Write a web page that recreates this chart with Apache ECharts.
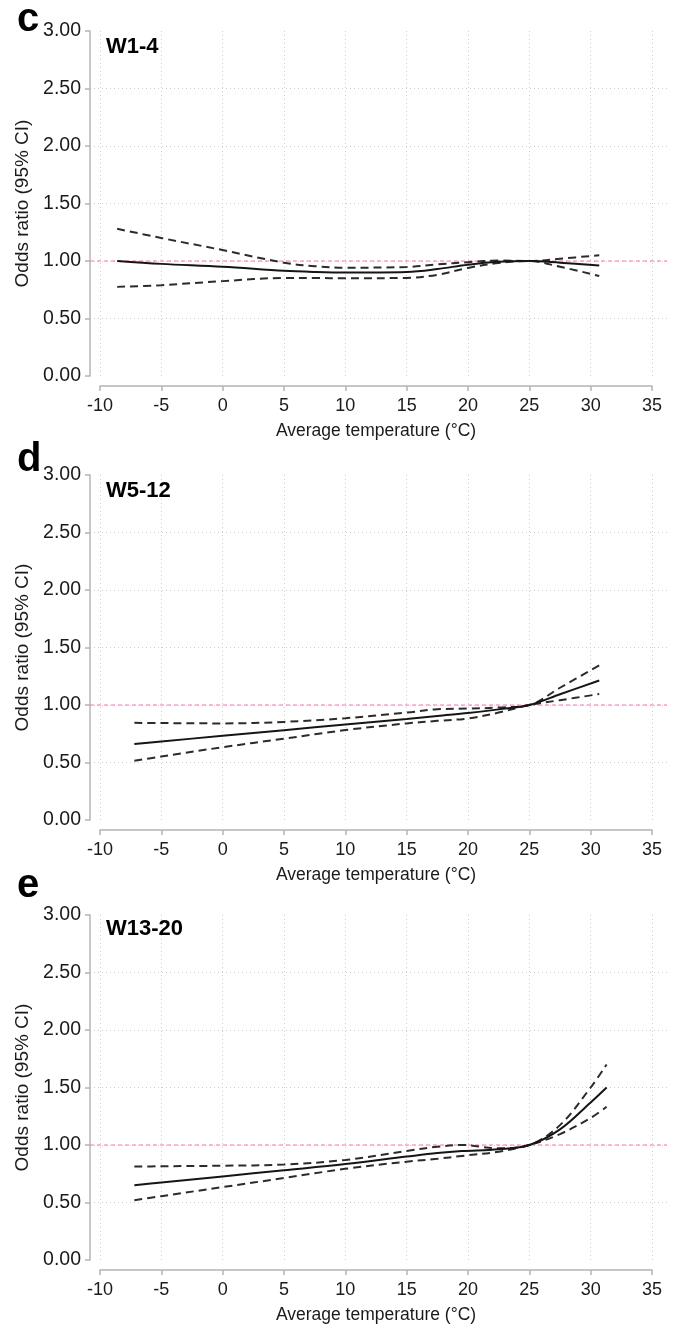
<!DOCTYPE html>
<html>
<head>
<meta charset="utf-8">
<script src="https://cdn.jsdelivr.net/npm/echarts@6/dist/echarts.min.js"></script>
<style>
  html, body { margin: 0; padding: 0; background: #fff; }
  #chart { width: 677px; height: 1333px; }
</style>
</head>
<body>
<div id="chart"></div>
<script>
// Odds ratio of the outcome against average temperature (°C), with 95% CI,
// for three exposure windows. Reference temperature ~25 °C (OR = 1).

// W1-4
const tempsC = [-8.6, -5, 0, 5, 7.5, 10, 15, 17.5, 20, 22.5, 25, 27.5, 30.7];
const orC    = [1.00, 0.975, 0.95, 0.915, 0.905, 0.90, 0.905, 0.93, 0.968, 0.993, 1.00, 0.985, 0.96];
const upC    = [1.28, 1.20, 1.095, 0.985, 0.955, 0.942, 0.948, 0.97, 0.99, 1.005, 1.00, 1.02, 1.05];
const loC    = [0.775, 0.79, 0.825, 0.852, 0.852, 0.85, 0.853, 0.88, 0.94, 0.982, 1.00, 0.95, 0.87];

// W5-12
const tempsD = [-7.2, -5, 0, 5, 10, 15, 17.5, 20, 22.5, 25, 27.5, 30.7];
const orD    = [0.66, 0.683, 0.732, 0.781, 0.83, 0.878, 0.905, 0.93, 0.962, 1.00, 1.093, 1.213];
const upD    = [0.845, 0.843, 0.84, 0.853, 0.885, 0.934, 0.963, 0.969, 0.978, 1.00, 1.15, 1.345];
const loD    = [0.515, 0.552, 0.633, 0.707, 0.782, 0.84, 0.862, 0.883, 0.934, 1.00, 1.042, 1.095];

// W13-20
const tempsE = [-7.2, -5, 0, 5, 10, 15, 17.5, 19.5, 22.5, 25, 27.5, 30, 31.3];
const orE    = [0.65, 0.674, 0.727, 0.78, 0.834, 0.899, 0.93, 0.947, 0.963, 1.00, 1.136, 1.37, 1.50];
const upE    = [0.812, 0.815, 0.82, 0.83, 0.87, 0.948, 0.985, 1.00, 0.971, 1.00, 1.173, 1.50, 1.70];
const loE    = [0.52, 0.555, 0.634, 0.713, 0.793, 0.855, 0.88, 0.905, 0.942, 1.00, 1.095, 1.235, 1.332];

// Axis scales
const xTickRange = { min: -10, max: 35, step: 5 };
const yTickRange = { min: 0, max: 3, step: 0.5 };
const plotXLimits = [-10.8, 36.2];   // full plotting region of each panel
const REF_OR = 1;

const FONT = '"Liberation Sans", Arial, Helvetica, sans-serif';
const AXIS_GRAY = '#b4b4b4';
const GRID_GRAY = '#cdcdcd';
const TEXT = '#1a1a1a';

const panels = [
  { letter: 'c', label: 'W1-4',   top: 31,  letterTop: -5,  labelTop: 31,  temps: tempsC, or: orC, up: upC, lo: loC },
  { letter: 'd', label: 'W5-12',  top: 475, letterTop: 435, labelTop: 475, temps: tempsD, or: orD, up: upD, lo: loD },
  { letter: 'e', label: 'W13-20', top: 915, letterTop: 861, labelTop: 913, temps: tempsE, or: orE, up: upE, lo: loE }
];

const PANEL_H = 345;
const zip = (xs, ys) => xs.map((x, i) => [x, ys[i]]);

const grid = [], xAxis = [], yAxis = [], series = [], title = [];

panels.forEach((p) => {
  const gPlot = grid.length;
  grid.push({ left: 100, right: 25, top: p.top, height: PANEL_H, outerBoundsMode: 'none' });
  const gBack = grid.length;
  grid.push({ left: 90, right: 10, top: p.top, height: PANEL_H, outerBoundsMode: 'none' });

  // visible axes
  const xi = xAxis.length;
  xAxis.push({
    type: 'value', gridIndex: gPlot,
    min: xTickRange.min, max: xTickRange.max, interval: xTickRange.step,
    offset: 10,
    axisLine: { show: true, onZero: false, lineStyle: { color: AXIS_GRAY, width: 1.5 } },
    axisTick: { show: true, length: 5, lineStyle: { color: AXIS_GRAY, width: 1.5 } },
    axisLabel: { fontSize: 18, color: TEXT, margin: 11, fontFamily: FONT },
    splitLine: { show: true, lineStyle: { color: GRID_GRAY, type: [1, 3], width: 1 } },
    name: 'Average temperature (°C)', nameLocation: 'middle', nameGap: 36,
    nameTextStyle: { fontSize: 17.5, color: TEXT, fontFamily: FONT }
  });
  const yi = yAxis.length;
  yAxis.push({
    type: 'value', gridIndex: gPlot,
    min: yTickRange.min, max: yTickRange.max, interval: yTickRange.step,
    offset: 10,
    axisLine: { show: true, onZero: false, lineStyle: { color: AXIS_GRAY, width: 1.5 } },
    axisTick: { show: true, length: 5, lineStyle: { color: AXIS_GRAY, width: 1.5 } },
    axisLabel: { fontSize: 19.5, color: TEXT, margin: 9, fontFamily: FONT,
                 formatter: v => v.toFixed(2) },
    splitLine: { show: false },
    name: 'Odds ratio (95% CI)', nameLocation: 'middle', nameGap: 57, nameRotate: 90,
    nameTextStyle: { fontSize: 19, color: TEXT, fontFamily: FONT }
  });

  // background axes: horizontal dotted grid across the full region
  const xb = xAxis.length;
  xAxis.push({
    type: 'value', gridIndex: gBack, min: plotXLimits[0], max: plotXLimits[1],
    axisLine: { show: false }, axisTick: { show: false }, axisLabel: { show: false },
    splitLine: { show: false }
  });
  const yb = yAxis.length;
  yAxis.push({
    type: 'value', gridIndex: gBack,
    min: yTickRange.min, max: yTickRange.max, interval: yTickRange.step,
    axisLine: { show: false }, axisTick: { show: false }, axisLabel: { show: false },
    splitLine: { show: true, showMinLine: false, showMaxLine: false,
                 lineStyle: { color: GRID_GRAY, type: [1, 3], width: 1 } }
  });

  // reference line OR = 1
  series.push({
    type: 'line', xAxisIndex: xb, yAxisIndex: yb, silent: true, z: 1,
    symbol: 'none',
    data: [[plotXLimits[0], REF_OR], [plotXLimits[1], REF_OR]],
    lineStyle: { color: '#ff6eb8', width: 1, type: [4, 3] }
  });

  const ciStyle = { color: '#2b2b2b', width: 2, type: [8, 5] };
  series.push({
    type: 'line', xAxisIndex: xi, yAxisIndex: yi, z: 3, symbol: 'none', smooth: 0.35,
    data: zip(p.temps, p.up), lineStyle: ciStyle
  });
  series.push({
    type: 'line', xAxisIndex: xi, yAxisIndex: yi, z: 3, symbol: 'none', smooth: 0.35,
    data: zip(p.temps, p.lo), lineStyle: ciStyle
  });
  series.push({
    type: 'line', xAxisIndex: xi, yAxisIndex: yi, z: 4, symbol: 'none', smooth: 0.35,
    data: zip(p.temps, p.or), lineStyle: { color: '#151515', width: 2, type: 'solid' }
  });

  title.push({
    text: p.letter, left: 12, top: p.letterTop,
    textStyle: { fontSize: 40, fontWeight: 'bold', color: '#000', fontFamily: FONT }
  });
  title.push({
    text: p.label, left: 101, top: p.labelTop,
    textStyle: { fontSize: 22, fontWeight: 'bold', color: '#000', fontFamily: FONT }
  });
});

const chart = echarts.init(document.getElementById('chart'), null, { renderer: 'canvas' });
chart.setOption({
  animation: false,
  backgroundColor: '#fff',
  title, grid, xAxis, yAxis, series
});
</script>
</body>
</html>
